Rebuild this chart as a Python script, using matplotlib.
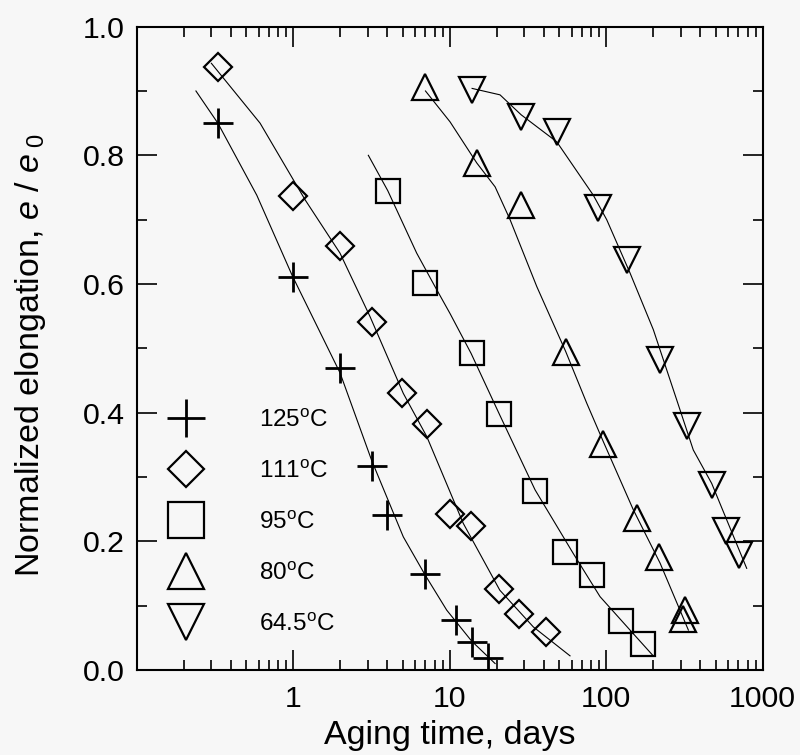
import matplotlib
matplotlib.use('Agg')
import matplotlib.pyplot as plt
from matplotlib.lines import Line2D
from matplotlib.ticker import FixedLocator, FixedFormatter, NullFormatter

plt.rcParams['font.family'] = ['Liberation Sans', 'DejaVu Sans']
plt.rcParams['mathtext.fontset'] = 'custom'
plt.rcParams['mathtext.rm'] = 'Liberation Sans'
plt.rcParams['mathtext.it'] = 'Liberation Sans:italic'
plt.rcParams['mathtext.bf'] = 'Liberation Sans:bold'

# ---------------- data ----------------
series_labels = ['125$^{\\rm o}$C', '111$^{\\rm o}$C', '95$^{\\rm o}$C', '80$^{\\rm o}$C', '64.5$^{\\rm o}$C']

t125 = [0.33, 0.99, 1.99, 3.18, 3.96, 6.95, 11.0, 13.8, 17.6]
e125 = [0.850, 0.611, 0.469, 0.317, 0.241, 0.149, 0.077, 0.044, 0.018]

t111 = [0.33, 1.0, 1.99, 3.2, 4.98, 7.13, 10.04, 13.75, 20.6, 27.7, 41.1]
e111 = [0.938, 0.737, 0.659, 0.541, 0.431, 0.382, 0.2425, 0.224, 0.126, 0.0876, 0.059]

t95 = [4.02, 6.95, 13.8, 20.7, 35.1, 54.5, 81.5, 124, 171]
e95 = [0.745, 0.601, 0.492, 0.398, 0.278, 0.184, 0.147, 0.076, 0.040]

t80 = [6.98, 14.9, 28.6, 55.1, 95.8, 157, 218, 319, 308]
e80 = [0.906, 0.788, 0.722, 0.495, 0.352, 0.236, 0.176, 0.093, 0.080]

t645 = [13.95, 28.6, 48.3, 89.1, 135, 221, 330, 472, 583, 709]
e645 = [0.902, 0.859, 0.837, 0.718, 0.637, 0.482, 0.379, 0.288, 0.216, 0.179]

# fitted curves
c125_t = [0.239, 0.33, 0.585, 0.99, 1.99, 3.18, 5.05, 6.95, 9.57, 13.8, 19.5]
c125_e = [0.90, 0.85, 0.738, 0.612, 0.462, 0.325, 0.207, 0.148, 0.093, 0.045, 0.010]

c111_t = [0.30, 0.614, 1.19, 1.99, 3.1, 5.05, 7.13, 12.2, 20.9, 34.2, 58.7]
c111_e = [0.943, 0.85, 0.731, 0.648, 0.549, 0.43, 0.363, 0.228, 0.124, 0.067, 0.022]

c95_t = [3.02, 4.02, 6.15, 8.05, 10.05, 13.7, 21.0, 35.1, 61.6, 91.3, 142, 198]
c95_e = [0.80, 0.745, 0.648, 0.596, 0.554, 0.492, 0.395, 0.28, 0.181, 0.114, 0.062, 0.023]

c80_t = [7.0, 10.05, 14.9, 19.5, 24.3, 36.0, 55.1, 75.0, 95.8, 149, 221, 335]
c80_e = [0.90, 0.852, 0.788, 0.751, 0.70, 0.596, 0.495, 0.415, 0.355, 0.249, 0.166, 0.062]

c645_t = [13.9, 20.96, 28.6, 48.3, 82.7, 100.7, 142, 200, 282, 360, 472, 790]
c645_e = [0.904, 0.894, 0.863, 0.821, 0.738, 0.70, 0.617, 0.529, 0.42, 0.342, 0.29, 0.158]

x_major = [1, 10, 100, 1000]
x_major_labels = ['1', '10', '100', '1000']
y_major = [0.0, 0.2, 0.4, 0.6, 0.8, 1.0]
y_major_labels = ['0.0', '0.2', '0.4', '0.6', '0.8', '1.0']

# ---------------- figure ----------------
bg = '#f7f7f7'
fig = plt.figure(figsize=(8.0, 7.55), dpi=100, facecolor=bg)
ax = fig.add_axes([0.1709, 0.1126, 0.7825, 0.8521], facecolor=bg)

curve_kw = dict(color='black', lw=0.8, zorder=2)
for ct, ce in [(c125_t, c125_e), (c111_t, c111_e), (c95_t, c95_e), (c80_t, c80_e), (c645_t, c645_e)]:
    ax.plot(ct, ce, **curve_kw)

mk = dict(ls='none', mfc='none', mec='black', zorder=3)
ax.plot(t125, e125, marker='+', ms=21.0, mew=2.0, **mk)
ax.plot(t111, e111, marker='D', ms=14.5, mew=1.6, **mk)
ax.plot(t95, e95, marker='s', ms=16.8, mew=1.6, **mk)
ax.plot(t80, e80, marker='^', ms=19.0, mew=1.6, **mk)
ax.plot(t645, e645, marker='v', ms=19.0, mew=1.6, **mk)

ax.set_xscale('log')
ax.set_xlim(0.1, 1000)
ax.set_ylim(0.0, 1.0)

ax.xaxis.set_major_locator(FixedLocator(x_major))
ax.xaxis.set_major_formatter(FixedFormatter(x_major_labels))
minor_x = [m * 10.0 ** d for d in (-1, 0, 1, 2) for m in range(2, 10)]
ax.xaxis.set_minor_locator(FixedLocator(minor_x))
ax.xaxis.set_minor_formatter(NullFormatter())

ax.yaxis.set_major_locator(FixedLocator(y_major))
ax.yaxis.set_major_formatter(FixedFormatter(y_major_labels))
ax.yaxis.set_minor_locator(FixedLocator([0.1, 0.3, 0.5, 0.7, 0.9]))

ax.tick_params(which='both', direction='in', top=True, right=True, width=1.2, colors='black')
ax.tick_params(which='major', length=14.5, labelsize=21.8)
ax.tick_params(which='minor', length=7.5)
ax.tick_params(axis='x', which='major', pad=11.0)
ax.tick_params(axis='y', which='major', pad=8.4)

for s in ax.spines.values():
    s.set_linewidth(1.5)

ax.set_xlabel('Aging time, days', fontsize=24.5, labelpad=5)
ax.set_ylabel('Normalized elongation, $e$ / $e_{\\ 0}$', fontsize=24.5)
ax.yaxis.set_label_coords(-0.141, 0.49)

handles = [
    Line2D([], [], ls='none', marker='+', ms=27.0, mew=2.0, mfc='none', mec='black'),
    Line2D([], [], ls='none', marker='D', ms=18.5, mew=1.6, mfc='none', mec='black'),
    Line2D([], [], ls='none', marker='s', ms=26.0, mew=1.6, mfc='none', mec='black'),
    Line2D([], [], ls='none', marker='^', ms=26.0, mew=1.6, mfc='none', mec='black'),
    Line2D([], [], ls='none', marker='v', ms=26.0, mew=1.6, mfc='none', mec='black'),
]
ax.legend(handles, series_labels, loc='center left', bbox_to_anchor=(0.0395, 0.229),
          frameon=False, fontsize=17.5, handlelength=2.0, handletextpad=2.0,
          labelspacing=1.18, borderpad=0, borderaxespad=0, numpoints=1)

fig.savefig('out.png', dpi=100, facecolor=bg)
